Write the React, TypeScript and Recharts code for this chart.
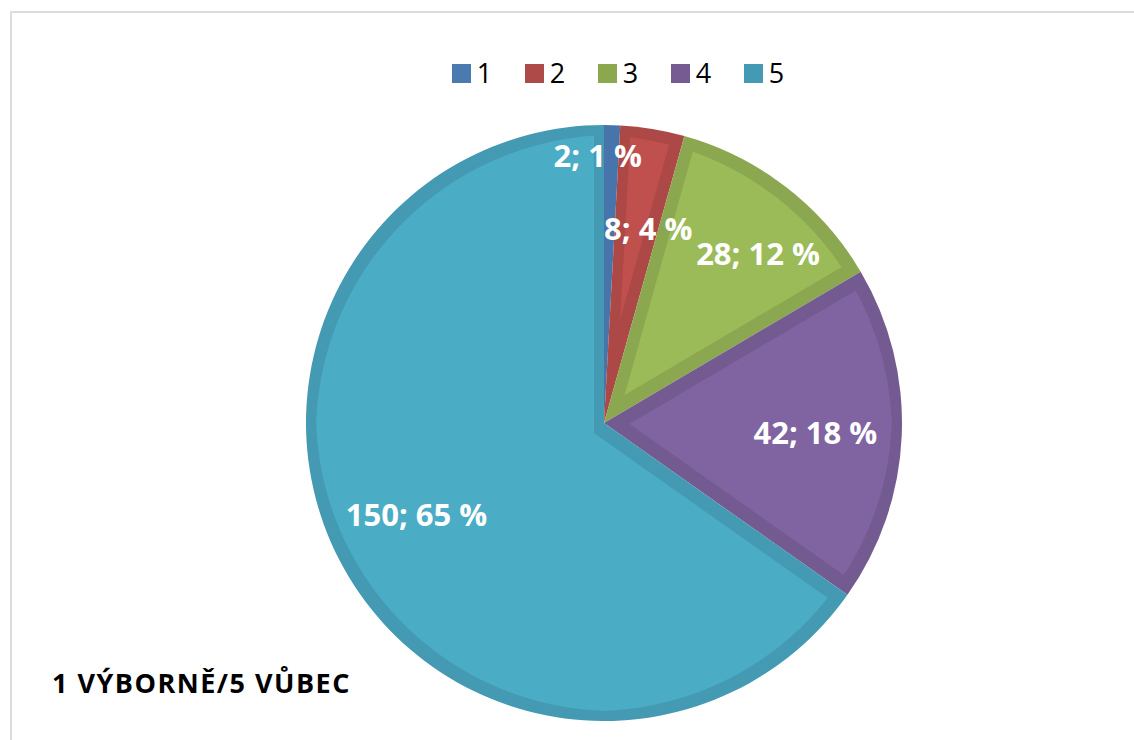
import React from 'react';
import { PieChart, Pie, Cell, Legend } from 'recharts';

const categories = ['1', '2', '3', '4', '5'];
const values = [2, 8, 28, 42, 150];
const percentLabels = [1, 4, 12, 18, 65];
const colors = ['#4F81BD', '#C0504D', '#9BBB59', '#8064A2', '#4BACC6'];
const legendColors = ['#4A7AB0', '#AE4A47', '#8CA84F', '#765A92', '#459AB3'];
const title = '1 VÝBORNĚ/5 VŮBEC';

const data = categories.map((name, i) => ({ name, value: values[i] }));

// label placement (style): radial fraction and angular shift per slice
const labelRadius = [0.9, 0.67, 0.77, 0.71, 0.7];
const labelShift = [2.9, -3.4, -4.6, 0, -1.4];

const RAD = Math.PI / 180;

const renderLabel = (p: any) => {
  const i = p.index;
  const ang = p.midAngle + labelShift[i];
  const r = p.outerRadius * labelRadius[i];
  const x = p.cx + r * Math.cos(-ang * RAD);
  const y = p.cy + r * Math.sin(-ang * RAD);
  return (
    <text
      x={x}
      y={y}
      fill="#ffffff"
      textAnchor="middle"
      dominantBaseline="central"
      style={{ fontFamily: '"Open Sans", sans-serif', fontWeight: 700, fontSize: 31 }}
    >
      {`${values[i]}; ${percentLabels[i]} %`}
    </text>
  );
};

const renderLegend = (props: any) => {
  const payload = props.payload || [];
  return (
    <div style={{ display: 'flex', justifyContent: 'center', fontFamily: '"Open Sans", sans-serif', fontSize: 27, color: '#000' }}>
      {payload.map((e: any, i: number) => (
        <div key={i} style={{ display: 'flex', alignItems: 'center', marginLeft: i === 0 ? 0 : 32.5 }}>
          <span style={{ width: 19, height: 19, background: legendColors[i], display: 'inline-block', marginRight: 6 }} />
          <span style={{ lineHeight: '32px' }}>{e.value}</span>
        </div>
      ))}
    </div>
  );
};

export default function App() {
  return (
    <div style={{ position: 'fixed', left: 0, top: 0, width: 1134, height: 740, overflow: 'hidden', background: '#fff' }}>
      <svg width={0} height={0} style={{ position: 'absolute' }}>
        <defs>
          <filter id="innerBand" x="-10%" y="-10%" width="120%" height="120%" colorInterpolationFilters="sRGB">
            <feComponentTransfer in="SourceGraphic" result="dark">
              <feFuncR type="linear" slope={0.9} />
              <feFuncG type="linear" slope={0.9} />
              <feFuncB type="linear" slope={0.9} />
            </feComponentTransfer>
            <feMorphology in="SourceGraphic" operator="erode" radius={10} result="inner" />
            <feMerge>
              <feMergeNode in="dark" />
              <feMergeNode in="inner" />
            </feMerge>
          </filter>
        </defs>
      </svg>
      <div style={{ position: 'absolute', left: 10, top: 11, width: 1200, height: 800, borderLeft: '2px solid #DDDDDD', borderTop: '2px solid #DDDDDD' }} />
      <div style={{ position: 'absolute', left: 0, top: 0 }}>
        <PieChart width={1134} height={740} margin={{ top: 0, right: 0, bottom: 0, left: 0 }}>
          <Legend
            content={renderLegend}
            verticalAlign="top"
            wrapperStyle={{ position: 'absolute', top: 57, left: 51, width: 1134 }}
          />
          <Pie
            data={data}
            dataKey="value"
            nameKey="name"
            cx={604}
            cy={391}
            outerRadius={298}
            startAngle={90}
            endAngle={-270}
            stroke="none"
            label={renderLabel}
            labelLine={false}
            isAnimationActive={false}
          >
            {data.map((d, i) => (
              <Cell key={d.name} fill={colors[i]} style={{ filter: 'url(#innerBand)' }} />
            ))}
          </Pie>
        </PieChart>
      </div>
      <div style={{ position: 'absolute', left: 52, top: 664, fontFamily: '"Open Sans", sans-serif', fontWeight: 700, fontSize: 27, letterSpacing: 1.5, color: '#000', whiteSpace: 'nowrap' }}>
        {title}
      </div>
    </div>
  );
}
